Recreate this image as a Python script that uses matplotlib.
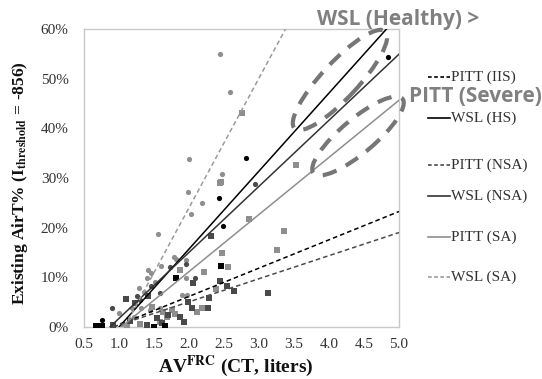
import matplotlib
matplotlib.use("Agg")
import matplotlib.pyplot as plt
from matplotlib.patches import Ellipse
from matplotlib.lines import Line2D
from matplotlib.transforms import IdentityTransform
import numpy as np

# ---------------- data ----------------
# scatter groups (x = AV_FRC litres, y = AirT %)
wsl_hs_x = [0.76, 2.43, 2.49, 2.81, 4.84]
wsl_hs_y = [1.5, 25.9, 20.4, 34.0, 54.4]

wsl_nsa_x = [0.90, 1.25, 1.46, 1.59, 1.73, 1.96, 2.08, 2.94, 1.30]
wsl_nsa_y = [3.9, 6.2, 8.3, 6.8, 12.0, 12.7, 9.9, 28.8, 5.5]

wsl_sa_x = [2.44, 2.59, 2.00, 2.47, 1.98, 2.18, 2.03, 1.56, 1.79, 1.82, 1.96,
            1.95, 1.60, 1.42, 1.45, 1.40, 1.28, 1.00, 1.18, 1.32, 1.12, 1.44,
            1.59, 1.90, 1.97, 1.04, 1.52, 1.35, 1.22]
wsl_sa_y = [55.0, 47.3, 33.8, 30.8, 27.1, 24.9, 22.7, 18.7, 14.0, 13.7, 13.5,
            9.9, 12.3, 11.5, 10.8, 9.8, 7.9, 2.8, 3.8, 3.8, 0.3, 3.4,
            3.8, 6.4, 6.4, 0.7, 9.0, 7.0, 2.0]

pitt_iis_x = [0.67, 0.75, 1.50, 1.66, 1.82, 2.46]
pitt_iis_y = [0.2, 0.2, 0.1, 0.3, 9.8, 12.3]

pitt_nsa_x = [0.92, 1.10, 1.23, 1.42, 1.40, 1.54, 1.70, 1.87, 1.93, 1.99, 2.04,
              2.06, 2.27, 2.29, 2.32, 2.44, 2.54, 2.64, 3.13, 1.15, 1.62]
pitt_nsa_y = [0.4, 5.6, 4.8, 6.3, 0.4, 1.8, 2.4, 2.1, 1.1, 5.1, 3.8,
              8.8, 3.9, 5.8, 18.3, 9.2, 8.3, 7.2, 6.8, 1.2, 0.8]

pitt_sa_x = [2.76, 2.44, 2.46, 3.53, 2.85, 3.36, 3.26, 2.47, 2.56, 2.22, 2.38,
             1.87, 1.47, 1.63, 1.75, 2.11, 2.18, 1.30, 1.59, 1.12, 1.68, 1.80]
pitt_sa_y = [43.1, 29.0, 29.2, 32.6, 21.8, 19.3, 15.6, 15.0, 12.0, 11.0, 7.7,
             11.5, 4.0, 3.1, 3.4, 3.1, 3.8, 0.7, 1.1, 0.3, 2.0, 2.6]

# regression lines: y = slope * (x - x_intercept)
line_names = ["PITT (IIS)", "WSL (HS)", "PITT (NSA)", "WSL (NSA)", "PITT (SA)", "WSL (SA)"]
line_slopes = [5.7, 15.7, 4.65, 13.3, 11.5, 26.1]
line_x0 = [0.92, 1.00, 0.91, 0.87, 1.03, 1.08]

x_ticks = [0.5, 1.0, 1.5, 2.0, 2.5, 3.0, 3.5, 4.0, 4.5, 5.0]
y_ticks = [0, 10, 20, 30, 40, 50, 60]

# ---------------- styling ----------------
W, H = 542, 379
fig = plt.figure(figsize=(W / 100, H / 100), dpi=100)
plt.rcParams['mathtext.fontset'] = 'stix'
serif = ['Liberation Serif', 'DejaVu Serif']

ax_l, ax_r, ax_t, ax_b = 84, 399, 29, 327
ax = fig.add_axes([ax_l / W, (H - ax_b) / H, (ax_r - ax_l) / W, (ax_b - ax_t) / H])

C_BLACK = '#000000'
C_DARK = '#4a4a4a'
C_GRAY = '#8e8e8e'

line_colors = [C_BLACK, C_BLACK, C_DARK, '#333333', C_GRAY, '#9a9a9a']
line_styles = ['--', '-', '--', '-', '-', '--']

ms = 14
ax.scatter(wsl_sa_x, wsl_sa_y, s=ms, marker='o', color=C_GRAY, linewidths=0, zorder=3)
ax.scatter(pitt_sa_x, pitt_sa_y, s=ms, marker='s', color=C_GRAY, linewidths=0, zorder=3)
ax.scatter(wsl_nsa_x, wsl_nsa_y, s=ms, marker='o', color=C_DARK, linewidths=0, zorder=3)
ax.scatter(pitt_nsa_x, pitt_nsa_y, s=ms, marker='s', color=C_DARK, linewidths=0, zorder=3)
ax.scatter(wsl_hs_x, wsl_hs_y, s=ms, marker='o', color=C_BLACK, linewidths=0, zorder=3)
ax.scatter(pitt_iis_x, pitt_iis_y, s=ms, marker='s', color=C_BLACK, linewidths=0, zorder=3)

for name, k, x0, c, ls in zip(line_names, line_slopes, line_x0, line_colors, line_styles):
    xs = np.array([x0, 5.0])
    ax.plot(xs, k * (xs - x0), color=c, linestyle=ls, linewidth=1.1,
            dashes=(3, 2) if ls == '--' else (None, None), zorder=4)

ax.set_xlim(0.5, 5.0)
ax.set_ylim(0, 60)
ax.set_xticks(x_ticks)
ax.set_xticklabels([f"{v:.1f}" for v in x_ticks])
ax.set_yticks(y_ticks)
ax.set_yticklabels([f"{v}%" for v in y_ticks])
ax.tick_params(length=0, labelsize=11, colors='#333333', pad=8)
for lab in ax.get_xticklabels() + ax.get_yticklabels():
    lab.set_family(serif)
ax.tick_params(axis='y', pad=11)
for sp in ax.spines.values():
    sp.set_color('#c8c8c8')
    sp.set_linewidth(1.0)

# axis labels
fig.text(236 / W, 1 - 366 / H, r"AV$^{\mathbf{FRC}}$ (CT, liters)", family=serif,
         fontweight='bold', fontsize=14, ha='center', va='center', color='#111111')
fig.text(20 / W, 1 - 183 / H, r"Existing AirT% (I$_{\mathbf{threshold}}$ = -856)", family=serif,
         fontweight='bold', fontsize=12.5, ha='center', va='center', rotation=90, color='#111111')

# manual legend
leg_y = [77, 118, 165, 196, 237, 277]
for name, c, ls, yy in zip(line_names, line_colors, line_styles, leg_y):
    ln = Line2D([428, 450], [H - yy, H - yy], transform=IdentityTransform(), color=c,
                linewidth=1.2, linestyle=ls, dashes=(2.2, 1.5) if ls == '--' else (None, None))
    fig.add_artist(ln)
    fig.text(451 / W, 1 - yy / H, name, family=serif, fontsize=11, color='#333333',
             ha='left', va='center')

# annotations
fig.text(398 / W, 1 - 19 / H, "WSL (Healthy) >", family=['Open Sans', 'DejaVu Sans'],
         fontweight='bold', fontsize=15, color='#808080', ha='center', va='center')
fig.text(475 / W, 1 - 96 / H, "PITT (Severe)", family=['Open Sans', 'DejaVu Sans'],
         fontweight='bold', fontsize=15, color='#808080', ha='center', va='center')

for (cx, cy, w, h, ang) in [(340, 80, 133, 36, 47), (358, 136, 116, 34, 40)]:
    e = Ellipse((cx, H - cy), w, h, angle=ang, transform=IdentityTransform(),
                fill=False, edgecolor='#767676', linewidth=3.0, linestyle=(0, (3.5, 2.5)))
    fig.add_artist(e)

fig.savefig("out.png", dpi=100)
